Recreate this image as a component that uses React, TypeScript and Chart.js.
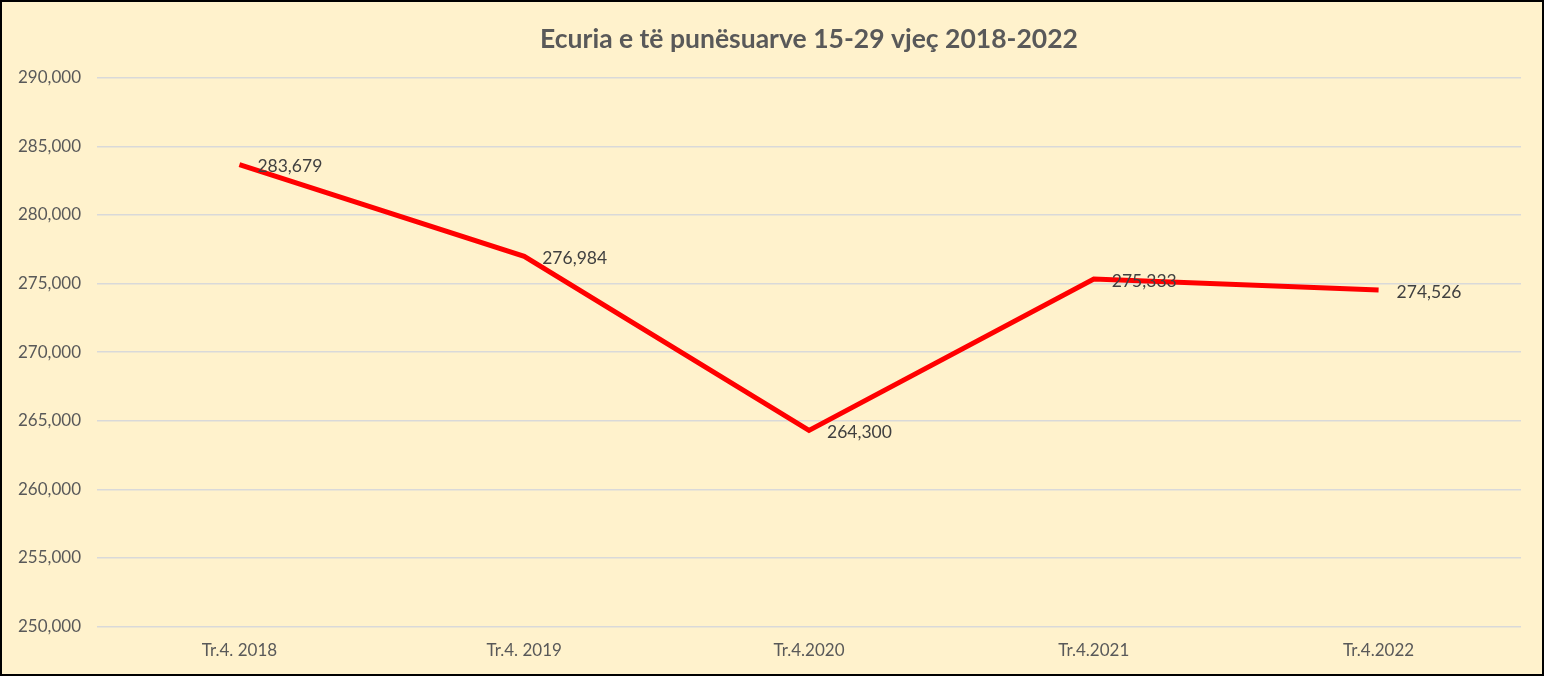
import React, { useEffect, useRef } from "react";
import { Chart, registerables } from "chart.js";

Chart.register(...registerables);

const TITLE = "Ecuria e të punësuarve 15-29 vjeç 2018-2022";
const categories = ["Tr.4. 2018", "Tr.4. 2019", "Tr.4.2020", "Tr.4.2021", "Tr.4.2022"];
const employed = [283679, 276984, 264300, 275333, 274526];
const yMin = 250000;
const yMax = 290000;
const yStep = 5000;

const fmt = (v: number) => v.toLocaleString("en-US");

const labelPlugin = {
  id: "pointLabels",
  afterDatasetsDraw(chart: any) {
    const ctx = chart.ctx;
    const meta = chart.getDatasetMeta(0);
    ctx.save();
    ctx.font = "17.5px Lato, 'Noto Sans', sans-serif";
    ctx.fillStyle = "#404040";
    ctx.textAlign = "left";
    ctx.textBaseline = "middle";
    meta.data.forEach((pt: any, i: number) => {
      ctx.fillText(fmt(employed[i]), pt.x + 18, pt.y + 2);
    });
    ctx.restore();
  },
};

export default function App() {
  const ref = useRef<HTMLCanvasElement | null>(null);

  useEffect(() => {
    document.body.style.margin = "0";
    if (!ref.current) return;
    Chart.defaults.font.family = "Lato, 'Noto Sans', sans-serif";
    const chart = new Chart(ref.current, {
      type: "line",
      data: {
        labels: categories,
        datasets: [
          {
            data: employed,
            borderColor: "#FF0000",
            borderWidth: 5,
            pointRadius: 0,
            pointHoverRadius: 0,
            tension: 0,
            fill: false,
            borderJoinStyle: "miter",
          },
        ],
      },
      options: {
        animation: false,
        responsive: false,
        maintainAspectRatio: false,
        layout: { padding: { left: 0, right: 21, top: 14, bottom: 7 } },
        plugins: {
          legend: { display: false },
          tooltip: { enabled: false },
          title: {
            display: true,
            text: TITLE,
            color: "#595959",
            font: { size: 26.5, weight: "bold" },
            padding: { top: 8, bottom: 22 },
            fullSize: false,
          },
        },
        scales: {
          x: {
            offset: true,
            grid: { display: false },
            border: { display: false },
            ticks: { color: "#595959", font: { size: 17 }, padding: 6 },
          },
          y: {
            min: yMin,
            max: yMax,
            grid: { color: "#D9D9D9", lineWidth: 1.5, drawTicks: false },
            border: { display: false },
            ticks: {
              stepSize: yStep,
              color: "#595959",
              font: { size: 17 },
              padding: 16,
              callback: (v: any) => fmt(Number(v)),
            },
          },
        },
      },
      plugins: [labelPlugin],
    });
    return () => chart.destroy();
  }, []);

  return (
    <div
      style={{
        width: 1544,
        height: 676,
        boxSizing: "border-box",
        border: "2px solid #000",
        background: "#FFF2CC",
      }}
    >
      <canvas ref={ref} width={1540} height={672} style={{ display: "block" }} />
    </div>
  );
}
